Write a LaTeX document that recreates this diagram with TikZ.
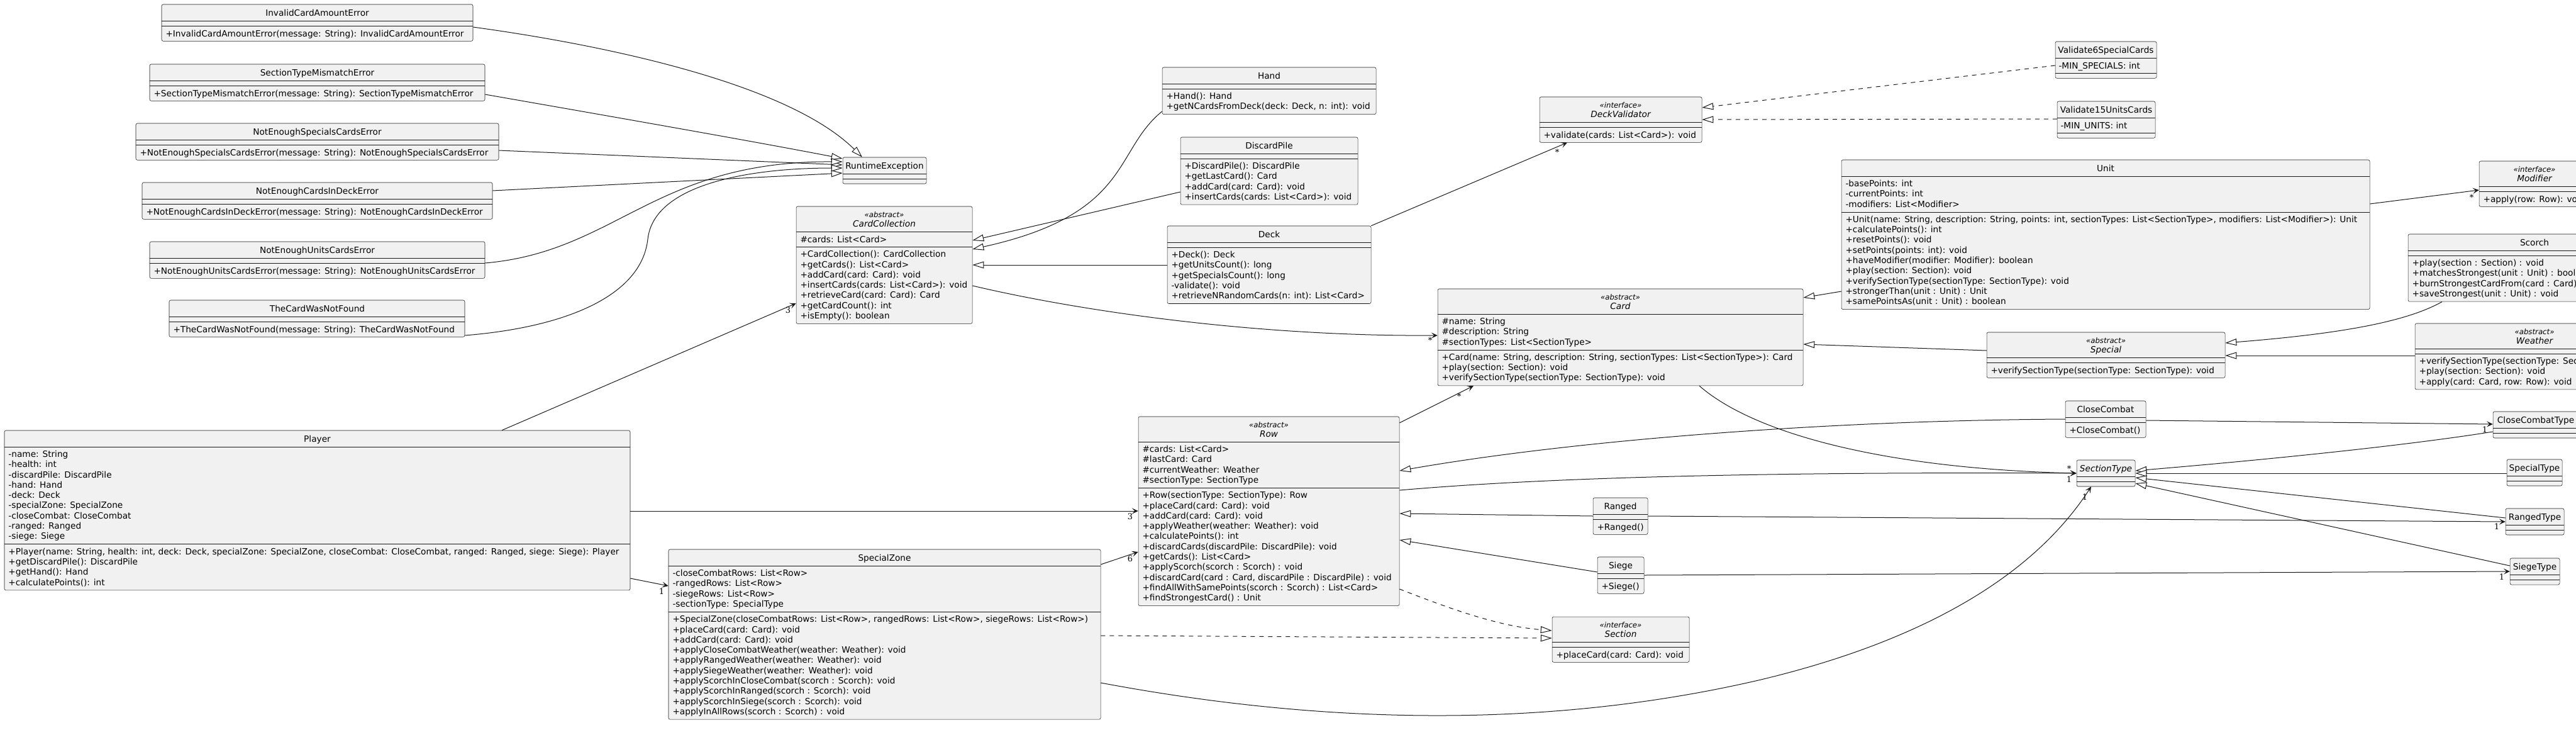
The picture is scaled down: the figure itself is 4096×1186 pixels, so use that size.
\documentclass[tikz,border=0pt]{standalone}
\usepackage{fontspec}
\setmainfont{DejaVu Sans}
\newfontfamily\multfamily{DejaVu Serif}
\usetikzlibrary{arrows.meta,fit}

\tikzset{every picture/.style={line width=0.75pt},
  classbox/.style={draw={rgb, 255:red, 24; green, 24; blue, 24}, fill={rgb, 255:red, 241; green, 241; blue, 241}, line width=0.4pt, rounded corners=1.9pt, inner sep=0pt},
  compsep/.style={draw={rgb, 255:red, 24; green, 24; blue, 24}, line width=0.4pt},
  cname/.style={anchor=base, inner sep=0pt, font=\fontsize{10.25pt}{12.225pt}\selectfont},
  aname/.style={anchor=base, inner sep=0pt, font=\fontsize{10.25pt}{12.225pt}\selectfont\itshape},
  stereo/.style={anchor=base, inner sep=0pt, font=\fontsize{8.8pt}{10.8pt}\selectfont\itshape},
  members/.style={anchor=north west, inner sep=0pt, align=left, font=\fontsize{10.25pt}{12.225pt}\selectfont, execute at begin node=\strut},
  mult/.style={inner sep=0pt, font=\multfamily\fontsize{9.75pt}{11pt}\selectfont},
  link/.style={draw={rgb, 255:red, 24; green, 24; blue, 24}, line width=0.75pt},
  inherit/.style={link, -{Triangle[open, length=13.5pt, width=8.2pt, fill=white]}},
  realize/.style={inherit, dash pattern=on 5.25pt off 5.25pt},
  assoc/.style={link, -{Stealth[length=7.5pt, width=7pt, inset=3.5pt]}}
}

\begin{document}
\begin{tikzpicture}[x=0.75pt,y=0.75pt,yscale=-1,xscale=1]
	\useasboundingbox (0,0) rectangle (4096,1186);
	\clip (0,0) rectangle (4096,1186);

	%Class: InvalidCardAmountError
	\node[classbox, fit={(257,7) (752,65.3)}] (exc1) {};
	\draw[compsep] (exc1.west |- 0,33) -- (exc1.east |- 0,33);
	\draw[compsep] (exc1.west |- 0,41) -- (exc1.east |- 0,41);
	% Text Node
	\node[cname] (exc1-name) at (504.5,25) {InvalidCardAmountError};
	\node[members] (exc1-ops) at (263,46.6) {+InvalidCardAmountError(message: String): InvalidCardAmountError};

	%Class: SectionTypeMismatchError
	\node[classbox, fit={(238,102) (771,160.3)}] (exc2) {};
	\draw[compsep] (exc2.west |- 0,128) -- (exc2.east |- 0,128);
	\draw[compsep] (exc2.west |- 0,136) -- (exc2.east |- 0,136);
	% Text Node
	\node[cname] (exc2-name) at (504.5,120) {SectionTypeMismatchError};
	\node[members] (exc2-ops) at (244,141.6) {+SectionTypeMismatchError(message: String): SectionTypeMismatchError};

	%Class: NotEnoughSpecialsCardsError
	\node[classbox, fit={(216,196) (793,254.3)}] (exc3) {};
	\draw[compsep] (exc3.west |- 0,222) -- (exc3.east |- 0,222);
	\draw[compsep] (exc3.west |- 0,230) -- (exc3.east |- 0,230);
	% Text Node
	\node[cname] (exc3-name) at (504.5,214) {NotEnoughSpecialsCardsError};
	\node[members] (exc3-ops) at (222,235.6) {+NotEnoughSpecialsCardsError(message: String): NotEnoughSpecialsCardsError};

	%Class: NotEnoughCardsInDeckError
	\node[classbox, fit={(226,290) (783,348.3)}] (exc4) {};
	\draw[compsep] (exc4.west |- 0,316) -- (exc4.east |- 0,316);
	\draw[compsep] (exc4.west |- 0,324) -- (exc4.east |- 0,324);
	% Text Node
	\node[cname] (exc4-name) at (504.5,308) {NotEnoughCardsInDeckError};
	\node[members] (exc4-ops) at (232,329.6) {+NotEnoughCardsInDeckError(message: String): NotEnoughCardsInDeckError};

	%Class: NotEnoughUnitsCardsError
	\node[classbox, fit={(238,384) (771,442.3)}] (exc5) {};
	\draw[compsep] (exc5.west |- 0,410) -- (exc5.east |- 0,410);
	\draw[compsep] (exc5.west |- 0,418) -- (exc5.east |- 0,418);
	% Text Node
	\node[cname] (exc5-name) at (504.5,402) {NotEnoughUnitsCardsError};
	\node[members] (exc5-ops) at (244,423.6) {+NotEnoughUnitsCardsError(message: String): NotEnoughUnitsCardsError};

	%Class: TheCardWasNotFound
	\node[classbox, fit={(269,477) (739,535.3)}] (exc6) {};
	\draw[compsep] (exc6.west |- 0,503) -- (exc6.east |- 0,503);
	\draw[compsep] (exc6.west |- 0,511) -- (exc6.east |- 0,511);
	% Text Node
	\node[cname] (exc6-name) at (504.5,495) {TheCardWasNotFound};
	\node[members] (exc6-ops) at (275,516.6) {+TheCardWasNotFound(message: String): TheCardWasNotFound};

	%Class: RuntimeException
	\node[classbox, fit={(1340,250) (1473,292)}] (runtime) {};
	\draw[compsep] (runtime.west |- 0,276) -- (runtime.east |- 0,276);
	\draw[compsep] (runtime.west |- 0,284) -- (runtime.east |- 0,284);
	% Text Node
	\node[cname] (runtime-name) at (1406.5,268) {RuntimeException};

	%Class: CardCollection
	\node[classbox, fit={(1266,328) (1546,514.4)}] (cardcoll) {};
	\draw[compsep] (cardcoll.west |- 0,368) -- (cardcoll.east |- 0,368);
	\draw[compsep] (cardcoll.west |- 0,392.3) -- (cardcoll.east |- 0,392.3);
	% Text Node
	\node[stereo] (cardcoll-st) at (1406,345) {«abstract»};
	\node[aname] (cardcoll-name) at (1406,360) {CardCollection};
	\node[members] (cardcoll-attr) at (1272,373.6) {\#cards: List<Card>};
	\node[members] (cardcoll-ops) at (1272,397.9) {+CardCollection(): CardCollection\\+getCards(): List<Card>\\+addCard(card: Card): void\\+insertCards(cards: List<Card>): void\\+retrieveCard(card: Card): Card\\+getCardCount(): int\\+isEmpty(): boolean};

	%Class: Hand
	\node[classbox, fit={(1848,107) (2188,181.6)}] (hand) {};
	\draw[compsep] (hand.west |- 0,133) -- (hand.east |- 0,133);
	\draw[compsep] (hand.west |- 0,141) -- (hand.east |- 0,141);
	% Text Node
	\node[cname] (hand-name) at (2018,125) {Hand};
	\node[members] (hand-ops) at (1854,146.6) {+Hand(): Hand\\+getNCardsFromDeck(deck: Deck, n: int): void};

	%Class: DiscardPile
	\node[classbox, fit={(1877,218) (2159,325.2)}] (discard) {};
	\draw[compsep] (discard.west |- 0,244) -- (discard.east |- 0,244);
	\draw[compsep] (discard.west |- 0,252) -- (discard.east |- 0,252);
	% Text Node
	\node[cname] (discard-name) at (2018,236) {DiscardPile};
	\node[members] (discard-ops) at (1883,257.6) {+DiscardPile(): DiscardPile\\+getLastCard(): Card\\+addCard(card: Card): void\\+insertCards(cards: List<Card>): void};

	%Class: Deck
	\node[classbox, fit={(1856,359) (2180,482.5)}] (deck) {};
	\draw[compsep] (deck.west |- 0,385) -- (deck.east |- 0,385);
	\draw[compsep] (deck.west |- 0,393) -- (deck.east |- 0,393);
	% Text Node
	\node[cname] (deck-name) at (2018,377) {Deck};
	\node[members] (deck-ops) at (1862,398.6) {+Deck(): Deck\\+getUnitsCount(): long\\+getSpecialsCount(): long\\-validate(): void\\+retrieveNRandomCards(n: int): List<Card>};

	%Class: DeckValidator
	\node[classbox, fit={(2448,154) (2706,226.3)}] (validator) {};
	\draw[compsep] (validator.west |- 0,194) -- (validator.east |- 0,194);
	\draw[compsep] (validator.west |- 0,202) -- (validator.east |- 0,202);
	% Text Node
	\node[stereo] (validator-st) at (2577,171) {«interface»};
	\node[aname] (validator-name) at (2577,186) {DeckValidator};
	\node[members] (validator-ops) at (2454,207.6) {+validate(cards: List<Card>): void};

	%Class: Validate6SpecialCards
	\node[classbox, fit={(3268,66) (3429,124.3)}] (val6) {};
	\draw[compsep] (val6.west |- 0,92) -- (val6.east |- 0,92);
	\draw[compsep] (val6.west |- 0,116.3) -- (val6.east |- 0,116.3);
	% Text Node
	\node[cname] (val6-name) at (3348.5,84) {Validate6SpecialCards};
	\node[members] (val6-attr) at (3273,97.6) {-MIN\_SPECIALS: int};

	%Class: Validate15UnitsCards
	\node[classbox, fit={(3271,161) (3427,219.3)}] (val15) {};
	\draw[compsep] (val15.west |- 0,187) -- (val15.east |- 0,187);
	\draw[compsep] (val15.west |- 0,211.3) -- (val15.east |- 0,211.3);
	% Text Node
	\node[cname] (val15-name) at (3349,179) {Validate15UnitsCards};
	\node[members] (val15-attr) at (3276,192.6) {-MIN\_UNITS: int};

	%Class: Unit
	\node[classbox, fit={(2928,254) (3768,491.6)}] (unit) {};
	\draw[compsep] (unit.west |- 0,280) -- (unit.east |- 0,280);
	\draw[compsep] (unit.west |- 0,336.9) -- (unit.east |- 0,336.9);
	% Text Node
	\node[cname] (unit-name) at (3348,272) {Unit};
	\node[members] (unit-attr) at (2934,285.6) {-basePoints: int\\-currentPoints: int\\-modifiers: List<Modifier>};
	\node[members] (unit-ops) at (2934,342.5) {+Unit(name: String, description: String, points: int, sectionTypes: List<SectionType>, modifiers: List<Modifier>): Unit\\+calculatePoints(): int\\+resetPoints(): void\\+setPoints(points: int): void\\+haveModifier(modifier: Modifier): boolean\\+play(section: Section): void\\+verifySectionType(sectionType: SectionType): void\\+strongerThan(unit : Unit) : Unit\\+samePointsAs(unit : Unit) : boolean};

	%Class: Modifier
	\node[classbox, fit={(3942,256) (4118,328.3)}] (modifier) {};
	\draw[compsep] (modifier.west |- 0,296) -- (modifier.east |- 0,296);
	\draw[compsep] (modifier.west |- 0,304) -- (modifier.east |- 0,304);
	% Text Node
	\node[stereo] (modifier-st) at (4030,273) {«interface»};
	\node[aname] (modifier-name) at (4030,288) {Modifier};
	\node[members] (modifier-ops) at (3948,309.6) {+apply(row: Row): void};

	%Class: Card
	\node[classbox, fit={(2286,459) (2867,612.8)}] (card) {};
	\draw[compsep] (card.west |- 0,499) -- (card.east |- 0,499);
	\draw[compsep] (card.west |- 0,555.9) -- (card.east |- 0,555.9);
	% Text Node
	\node[stereo] (card-st) at (2576.5,476) {«abstract»};
	\node[aname] (card-name) at (2576.5,491) {Card};
	\node[members] (card-attr) at (2292,504.6) {\#name: String\\\#description: String\\\#sectionTypes: List<SectionType>};
	\node[members] (card-ops) at (2292,561.5) {+Card(name: String, description: String, sectionTypes: List<SectionType>): Card\\+play(section: Section): void\\+verifySectionType(sectionType: SectionType): void};

	%Class: Scorch
	\node[classbox, fit={(3829,372) (4231,479.2)}] (scorch) {};
	\draw[compsep] (scorch.west |- 0,398) -- (scorch.east |- 0,398);
	\draw[compsep] (scorch.west |- 0,406) -- (scorch.east |- 0,406);
	% Text Node
	\node[cname] (scorch-name) at (4030,390) {Scorch};
	\node[members] (scorch-ops) at (3835,411.6) {+play(section : Section) : void\\+matchesStrongest(unit : Unit) : boolean\\+burnStrongestCardFrom(card : Card) : void\\+saveStrongest(unit : Unit) : void};

	%Class: Special
	\node[classbox, fit={(3159,528) (3538,600.3)}] (special) {};
	\draw[compsep] (special.west |- 0,568) -- (special.east |- 0,568);
	\draw[compsep] (special.west |- 0,576) -- (special.east |- 0,576);
	% Text Node
	\node[stereo] (special-st) at (3348.5,545) {«abstract»};
	\node[aname] (special-name) at (3348.5,560) {Special};
	\node[members] (special-ops) at (3165,581.6) {+verifySectionType(sectionType: SectionType): void};

	%Class: Weather
	\node[classbox, fit={(3840,514) (4220,618.9)}] (weather) {};
	\draw[compsep] (weather.west |- 0,554) -- (weather.east |- 0,554);
	\draw[compsep] (weather.west |- 0,562) -- (weather.east |- 0,562);
	% Text Node
	\node[stereo] (weather-st) at (4030,531) {«abstract»};
	\node[aname] (weather-name) at (4030,546) {Weather};
	\node[members] (weather-ops) at (3846,567.6) {+verifySectionType(sectionType: SectionType): void\\+play(section: Section): void\\+apply(card: Card, row: Row): void};

	%Class: Player
	\node[classbox, fit={(7,684) (1002,937.9)}] (player) {};
	\draw[compsep] (player.west |- 0,710) -- (player.east |- 0,710);
	\draw[compsep] (player.west |- 0,864.7) -- (player.east |- 0,864.7);
	% Text Node
	\node[cname] (player-name) at (504.5,702) {Player};
	\node[members] (player-attr) at (13,715.6) {-name: String\\-health: int\\-discardPile: DiscardPile\\-hand: Hand\\-deck: Deck\\-specialZone: SpecialZone\\-closeCombat: CloseCombat\\-ranged: Ranged\\-siege: Siege};
	\node[members] (player-ops) at (13,870.3) {+Player(name: String, health: int, deck: Deck, specialZone: SpecialZone, closeCombat: CloseCombat, ranged: Ranged, siege: Siege): Player\\+getDiscardPile(): DiscardPile\\+getHand(): Hand\\+calculatePoints(): int};

	%Class: SpecialZone
	\node[classbox, fit={(1063,873) (1750,1143.2)}] (szone) {};
	\draw[compsep] (szone.west |- 0,899) -- (szone.east |- 0,899);
	\draw[compsep] (szone.west |- 0,972.2) -- (szone.east |- 0,972.2);
	% Text Node
	\node[cname] (szone-name) at (1406.5,891) {SpecialZone};
	\node[members] (szone-attr) at (1069,904.6) {-closeCombatRows: List<Row>\\-rangedRows: List<Row>\\-siegeRows: List<Row>\\-sectionType: SpecialType};
	\node[members] (szone-ops) at (1069,977.8) {+SpecialZone(closeCombatRows: List<Row>, rangedRows: List<Row>, siegeRows: List<Row>)\\+placeCard(card: Card): void\\+addCard(card: Card): void\\+applyCloseCombatWeather(weather: Weather): void\\+applyRangedWeather(weather: Weather): void\\+applySiegeWeather(weather: Weather): void\\+applyScorchInCloseCombat(scorch : Scorch): void\\+applyScorchInRanged(scorch : Scorch): void\\+applyScorchInSiege(scorch : Scorch): void\\+applyInAllRows(scorch : Scorch) : void};

	%Class: Row
	\node[classbox, fit={(1810,662) (2225,962.5)}] (row) {};
	\draw[compsep] (row.west |- 0,702) -- (row.east |- 0,702);
	\draw[compsep] (row.west |- 0,775.2) -- (row.east |- 0,775.2);
	% Text Node
	\node[stereo] (row-st) at (2017.5,679) {«abstract»};
	\node[aname] (row-name) at (2017.5,694) {Row};
	\node[members] (row-attr) at (1816,707.6) {\#cards: List<Card>\\\#lastCard: Card\\\#currentWeather: Weather\\\#sectionType: SectionType};
	\node[members] (row-ops) at (1816,780.8) {+Row(sectionType: SectionType): Row\\+placeCard(card: Card): void\\+addCard(card: Card): void\\+applyWeather(weather: Weather): void\\+calculatePoints(): int\\+discardCards(discardPile: DiscardPile): void\\+getCards(): List<Card>\\+applyScorch(scorch : Scorch) : void\\+discardCard(card : Card, discardPile : DiscardPile) : void\\+findAllWithSamePoints(scorch : Scorch) : List<Card>\\+findStrongestCard() : Unit};

	%Class: Ranged
	\node[classbox, fit={(2533,791) (2620,849.3)}] (ranged) {};
	\draw[compsep] (ranged.west |- 0,817) -- (ranged.east |- 0,817);
	\draw[compsep] (ranged.west |- 0,825) -- (ranged.east |- 0,825);
	% Text Node
	\node[cname] (ranged-name) at (2576.5,809) {Ranged};
	\node[members] (ranged-ops) at (2539,830.6) {+Ranged()};

	%Class: Siege
	\node[classbox, fit={(2540,885) (2614,943.3)}] (siege) {};
	\draw[compsep] (siege.west |- 0,911) -- (siege.east |- 0,911);
	\draw[compsep] (siege.west |- 0,919) -- (siege.east |- 0,919);
	% Text Node
	\node[cname] (siege-name) at (2577,903) {Siege};
	\node[members] (siege-ops) at (2546,924.6) {+Siege()};

	%Class: CloseCombat
	\node[classbox, fit={(3284,637) (3412,695.3)}] (closecombat) {};
	\draw[compsep] (closecombat.west |- 0,663) -- (closecombat.east |- 0,663);
	\draw[compsep] (closecombat.west |- 0,671) -- (closecombat.east |- 0,671);
	% Text Node
	\node[cname] (closecombat-name) at (3348,655) {CloseCombat};
	\node[members] (closecombat-ops) at (3290,676.6) {+CloseCombat()};

	%Class: Section
	\node[classbox, fit={(2468,980) (2686,1052.3)}] (section) {};
	\draw[compsep] (section.west |- 0,1020) -- (section.east |- 0,1020);
	\draw[compsep] (section.west |- 0,1028) -- (section.east |- 0,1028);
	% Text Node
	\node[stereo] (section-st) at (2577,997) {«interface»};
	\node[aname] (section-name) at (2577,1012) {Section};
	\node[members] (section-ops) at (2474,1033.6) {+placeCard(card: Card): void};

	%Class: SectionType
	\node[classbox, fit={(3302,731) (3395,773)}] (sectype) {};
	\draw[compsep] (sectype.west |- 0,757) -- (sectype.east |- 0,757);
	\draw[compsep] (sectype.west |- 0,765) -- (sectype.east |- 0,765);
	% Text Node
	\node[aname] (sectype-name) at (3348.5,749) {SectionType};

	%Class: CloseCombatType
	\node[classbox, fit={(3964,654) (4100,696)}] (cctype) {};
	\draw[compsep] (cctype.west |- 0,680) -- (cctype.east |- 0,680);
	\draw[compsep] (cctype.west |- 0,688) -- (cctype.east |- 0,688);
	% Text Node
	\node[cname] (cctype-name) at (4032,672) {CloseCombatType};

	%Class: SpecialType
	\node[classbox, fit={(3986,730) (4074,772)}] (spectype) {};
	\draw[compsep] (spectype.west |- 0,756) -- (spectype.east |- 0,756);
	\draw[compsep] (spectype.west |- 0,764) -- (spectype.east |- 0,764);
	% Text Node
	\node[cname] (spectype-name) at (4030,748) {SpecialType};

	%Class: RangedType
	\node[classbox, fit={(3984,808) (4077,850)}] (rangedtype) {};
	\draw[compsep] (rangedtype.west |- 0,834) -- (rangedtype.east |- 0,834);
	\draw[compsep] (rangedtype.west |- 0,842) -- (rangedtype.east |- 0,842);
	% Text Node
	\node[cname] (rangedtype-name) at (4030.5,826) {RangedType};

	%Class: SiegeType
	\node[classbox, fit={(3991,887) (4070,929)}] (siegetype) {};
	\draw[compsep] (siegetype.west |- 0,913) -- (siegetype.east |- 0,913);
	\draw[compsep] (siegetype.west |- 0,921) -- (siegetype.east |- 0,921);
	% Text Node
	\node[cname] (siegetype-name) at (4030.5,905) {SiegeType};

	%Generalization: exceptions to RuntimeException
	\draw[inherit] (exc1.east |- 0,43) .. controls (950,70) and (1250,130) .. (runtime.north -| 1371,0);
	\draw[inherit] (exc2.east |- 0,150) .. controls (1000,190) and (1200,225) .. (runtime.west |- 0,252);
	\draw[inherit] (exc3.east |- 0,239) -- (runtime.west |- 0,262);
	\draw[inherit] (exc4.east |- 0,303) -- (runtime.west |- 0,275);
	\draw[inherit] (exc5.east |- 0,418) .. controls (980,400) and (1040,256) .. (runtime.west |- 0,257);
	\draw[inherit] (exc6.east |- 0,533) .. controls (900,520) and (1020,470) .. (1030,380) .. controls (1040,290) and (1200,267) .. (runtime.west |- 0,267);

	%Generalization: card collections
	\draw[inherit] (hand.west |- 0,177) .. controls (1770,240) and (1800,340) .. (cardcoll.east |- 0,396);
	\draw[inherit] (discard.west |- 0,305) -- (cardcoll.east |- 0,382);
	\draw[inherit] (deck.west |- 0,421) -- (cardcoll.east |- 0,421);

	%Realization: validators
	\draw[realize] (val6.west |- 0,104) -- (validator.east |- 0,171);
	\draw[realize] (val15.west |- 0,189) -- (validator.east |- 0,190);

	%Generalization: cards
	\draw[inherit] (unit.west |- 0,463) -- (card.east |- 0,473);
	\draw[inherit] (special.west |- 0,557) -- (card.east |- 0,547);
	\draw[inherit] (scorch.south -| 3883,0) .. controls (3820,515) and (3700,532) .. (special.east |- 0,545);
	\draw[inherit] (weather.west |- 0,565) -- (special.east |- 0,565);

	%Generalization: rows
	\draw[inherit] (closecombat.west |- 0,666) .. controls (2900,668) and (2500,700) .. (row.east |- 0,748);
	\draw[inherit] (ranged.west |- 0,820) -- (row.east |- 0,816);
	\draw[inherit] (siege.west |- 0,909) -- (row.east |- 0,858);

	%Realization: sections
	\draw[realize] (row.east |- 0,936) .. controls (2300,965) and (2380,995) .. (section.west |- 0,1002);
	\draw[realize] (szone.east |- 0,1010) -- (section.west |- 0,1014);

	%Generalization: section types
	\draw[inherit] (cctype.west |- 0,686) .. controls (3800,712) and (3550,735) .. (sectype.east |- 0,748);
	\draw[inherit] (spectype.west |- 0,752) -- (sectype.east |- 0,752);
	\draw[inherit] (rangedtype.west |- 0,823) -- (sectype.east |- 0,759);
	\draw[inherit] (siegetype.west |- 0,899) -- (sectype.east |- 0,768);

	%Association: with multiplicity
	\draw[assoc] (player.north -| 798,0) -- (cardcoll.west |- 0,482);
	\node[mult] (m-player-coll) at (1253,493) {3};
	\draw[assoc] (player.east |- 0,812) -- (row.west |- 0,812);
	\node[mult] (m-player-row) at (1797,821) {3};
	\draw[assoc] (player.east |- 0,919) -- (szone.west |- 0,931);
	\node[mult] (m-player-zone) at (1052,940) {1};
	\draw[assoc] (szone.east |- 0,897) -- (row.west |- 0,877);
	\node[mult] (m-zone-row) at (1797,888) {6};
	\draw[assoc] (cardcoll.east |- 0,454) .. controls (1720,495) and (2000,535) .. (card.west |- 0,533);
	\node[mult] (m-coll-card) at (2274,541) {*};
	\draw[assoc] (deck.north east) -- (validator.south -| 2492,0);
	\node[mult] (m-deck-val) at (2476,242) {*};
	\draw[assoc] (row.east |- 0,672) -- (card.south -| 2343,0);
	\node[mult] (m-row-card) at (2320,630) {*};
	\draw[assoc] (unit.east |- 0,324) -- (modifier.west |- 0,302);
	\node[mult] (m-unit-mod) at (3930,314) {*};
	\draw[assoc] (card.south -| 2702,0) .. controls (2790,690) and (3000,745) .. (sectype.west |- 0,752);
	\node[mult] (m-card-type) at (3290,745) {*};
	\draw[assoc] (row.east |- 0,779) .. controls (2500,755) and (2900,750) .. (sectype.west |- 0,752);
	\node[mult] (m-row-type) at (3290,762) {1};
	\draw[assoc] (szone.east |- 0,1085) .. controls (2150,1160) and (2500,1150) .. (2800,1080) .. controls (3050,1020) and (3230,920) .. (sectype.south -| 3325,0);
	\node[mult] (m-zone-type) at (3315,790) {1};
	\draw[assoc] (closecombat.east |- 0,668) -- (cctype.west |- 0,674);
	\node[mult] (m-cc-type) at (3951,683) {1};
	\draw[assoc] (ranged.east |- 0,820) -- (rangedtype.west |- 0,829);
	\node[mult] (m-ranged-type) at (3970,837) {1};
	\draw[assoc] (siege.east |- 0,914) -- (siegetype.west |- 0,908);
	\node[mult] (m-siege-type) at (3978,917) {1};

\end{tikzpicture}
\end{document}
